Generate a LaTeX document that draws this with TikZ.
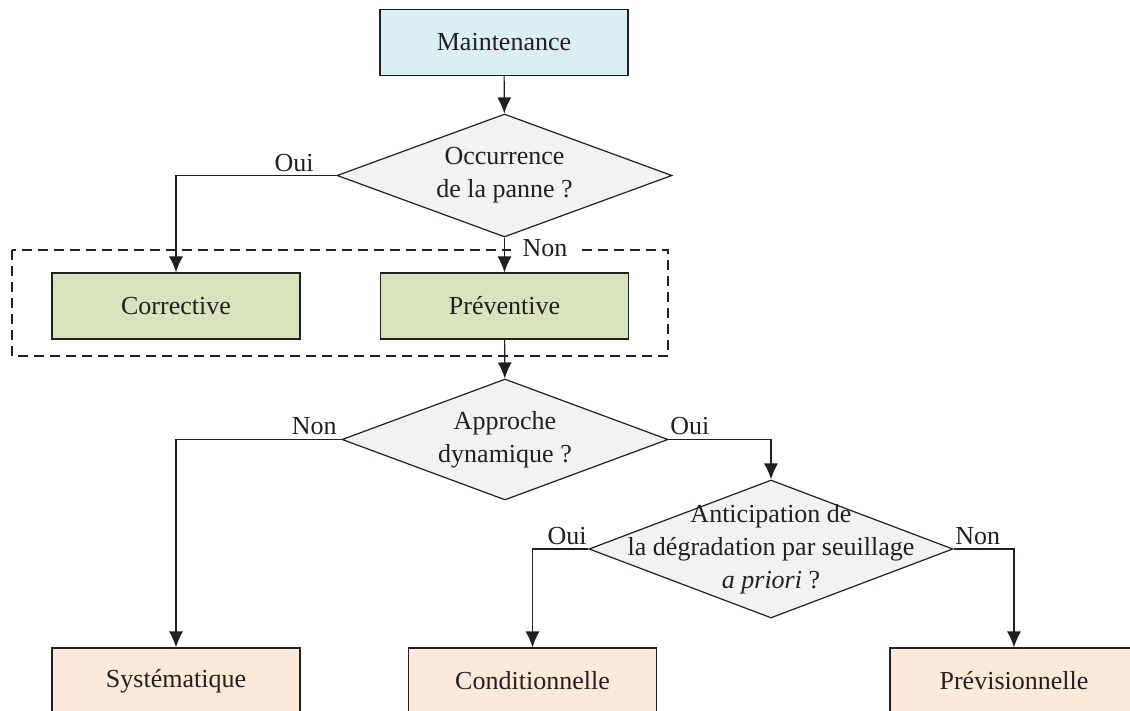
\documentclass[tikz,border=0pt]{standalone}
\usepackage{fontspec}
\setmainfont{Liberation Serif}
\usetikzlibrary{shapes.geometric,arrows.meta}

\definecolor{bluefill}{HTML}{DAEEF3}
\definecolor{greenfill}{HTML}{D7E4BD}
\definecolor{orangefill}{HTML}{FDE9D9}
\definecolor{greyfill}{HTML}{F1F2F3}
\definecolor{linecol}{HTML}{231F20}

\tikzset{
  box/.style={draw=linecol, line width=0.6pt, minimum width=124pt, minimum height=33pt, inner sep=0pt},
  decision/.style={diamond, draw=linecol, fill=greyfill, line width=0.6pt, inner sep=0pt},
  flow/.style={draw=linecol, line width=0.6pt, -{Latex[length=8pt,width=7pt]}},
  answer/.style={inner sep=2pt, text=linecol},
}

\begin{document}
\begin{tikzpicture}[x=0.5pt, y=-0.5pt, font=\fontsize{13}{16.5}\selectfont, text=linecol]
            \clip (0,0) rectangle (1130,711);

            % Group
            \draw[linecol, line width=0.6pt, dash pattern=on 5pt off 3pt] (12,250) rectangle (668,356);

            % Boxes
            \node[box, fill=bluefill] (maint) at (504,42.5) {Maintenance};
            \node[box, fill=greenfill] (corr) at (176,306) {Corrective};
            \node[box, fill=greenfill] (prev) at (504.5,306) {Préventive};
            \node[box, fill=orangefill] (sys) at (176,681) {Systématique};
            \node[box, fill=orangefill] (cond) at (532.5,681) {Conditionnelle};
            \node[box, fill=orangefill] (previs) at (1014,681) {Prévisionnelle};

            % Decisions
            \node[decision, minimum width=167.5pt, minimum height=61.5pt,
                  label={[align=center]center:{Occurrence\\de la panne ?}}] (occ) at (504.5,175.5) {};
            \node[decision, minimum width=163pt, minimum height=60.5pt,
                  label={[align=center]center:{Approche\\dynamique ?}}] (dyn) at (505,439.5) {};
            \node[decision, minimum width=182pt, minimum height=69pt,
                  label={[align=center]center:{Anticipation de\\la dégradation par seuillage\\\textit{a priori} ?}}] (seuil) at (771,549) {};

            % Labels
            \node[answer, above left] (ouiocc) at (318,176) {Oui};
            \node[answer, fill=white, inner xsep=6pt] (nonocc) at (545,248) {Non};
            \node[answer, above left] (nondyn) at (341,439.5) {Non};
            \node[answer, above right] (ouidyn) at (666,439.5) {Oui};
            \node[answer, above left] (ouiseuil) at (591,549) {Oui};
            \node[answer, above right] (nonseuil) at (951,549) {Non};

            % Arrows
            \draw[flow] (maint) -- (occ);
            \draw[flow] (occ.west) -| (corr.north);
            \draw[flow] (occ) -- (prev);
            \draw[flow] (prev) -- (dyn);
            \draw[flow] (dyn.west) -| (sys.north);
            \draw[flow] (dyn.east) -| (seuil.north);
            \draw[flow] (seuil.west) -| (cond.north);
            \draw[flow] (seuil.east) -| (previs.north);
        \end{tikzpicture}
\end{document}
